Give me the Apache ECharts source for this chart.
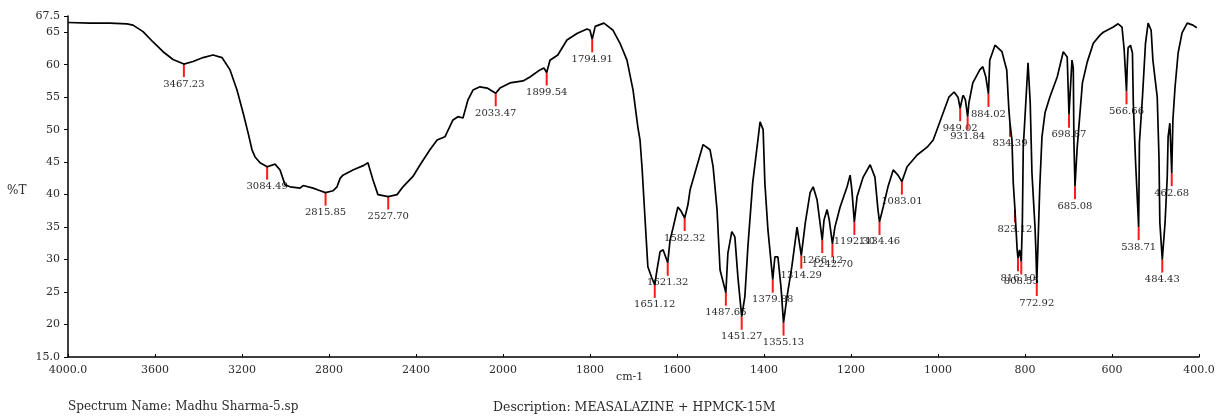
<!DOCTYPE html>
<html>
<head>
<meta charset="utf-8">
<script src="https://cdn.jsdelivr.net/npm/echarts@6/dist/echarts.min.js"></script>
<style>
  html, body { margin: 0; padding: 0; background: #fff; }
  #chart { width: 1224px; height: 418px; }
</style>
</head>
<body>
<div id="chart"></div>
<script>
// IR spectrum: wavenumber (cm-1) against transmittance (%T)
const spectrumWn = [
  4000, 3899, 3807, 3729, 3701, 3655, 3609, 3563, 3517, 3467.23,
  3425, 3379, 3333, 3292, 3255, 3223, 3195, 3172, 3154, 3140,
  3117, 3084.49, 3048, 3025, 3002, 2979, 2933, 2919, 2873, 2850,
  2815.85, 2781, 2763, 2749, 2736, 2690, 2640, 2621, 2598, 2575,
  2527.70, 2487, 2460, 2414, 2381, 2336, 2303, 2267, 2230, 2207,
  2184, 2161, 2138, 2106, 2073, 2033.47, 2014, 1984, 1954, 1938,
  1915, 1906, 1899.54, 1892, 1874, 1853, 1830, 1807, 1800, 1794.91,
  1788, 1768, 1747, 1731, 1715, 1701, 1690, 1685, 1680, 1673,
  1667, 1658, 1651.12, 1646, 1639, 1632, 1621.32, 1616, 1609, 1598,
  1591, 1582.32, 1575, 1570, 1559, 1540, 1524, 1517, 1508, 1501,
  1487.65, 1483, 1474, 1467, 1460, 1451.27, 1444, 1437, 1426, 1416,
  1409, 1402, 1398, 1391, 1379.88, 1375, 1368, 1361, 1355.13, 1347,
  1336, 1324, 1314.29, 1305, 1294, 1287, 1278, 1266.12, 1262, 1255,
  1250, 1242.70, 1237, 1225, 1209, 1202, 1198, 1192.30, 1186, 1172,
  1156, 1145, 1138, 1134.46, 1126, 1115, 1103, 1099, 1092, 1083.01,
  1071, 1048, 1025, 1011, 1000, 986, 975, 963, 954, 949.02,
  944, 942, 937, 931.84, 929, 920, 904, 897, 890, 884.02,
  881, 869, 865, 853, 842, 837, 834.39, 830, 827, 823.12,
  818, 816.10, 812.5, 808.55, 806, 804, 800, 793, 788, 784,
  777, 775, 772.92, 766, 761, 754, 743, 726, 712, 703,
  698.87, 692, 689, 687.5, 685.08, 680, 668, 657, 643, 627,
  620, 597, 586, 577, 572, 566.66, 565, 563, 557.5, 553,
  551, 546, 538.71, 537, 530, 523, 517, 510, 506, 496,
  492, 490, 484.43, 478, 473, 471, 467, 462.68, 460, 455,
  448, 439, 427, 414, 405
];
const spectrumT = [
  66.5, 66.4, 66.4, 66.3, 66.1, 65.1, 63.5, 62.0, 60.8, 60.1,
  60.5, 61.1, 61.5, 61.1, 59.2, 56.1, 52.6, 49.5, 46.9, 45.8,
  44.9, 44.3, 44.7, 43.8, 41.5, 41.2, 41.0, 41.4, 41.0, 40.7,
  40.3, 40.6, 41.2, 42.5, 43.0, 43.8, 44.5, 44.9, 42.3, 40.0,
  39.7, 40.0, 41.2, 42.8, 44.6, 46.9, 48.4, 48.9, 51.5, 52.0,
  51.8, 54.6, 56.1, 56.6, 56.4, 55.6, 56.4, 57.2, 57.5, 58.1,
  59.2, 59.5, 58.8, 60.7, 61.5, 63.8, 64.8, 65.5, 65.3, 63.9,
  65.9, 66.4, 65.3, 63.3, 60.7, 56.1, 50.4, 48.4, 43.8, 35.7,
  28.9, 27.2, 26.1, 28.4, 31.2, 31.5, 29.5, 33.0, 34.9, 38.1,
  37.5, 36.4, 38.4, 40.7, 43.3, 47.7, 46.9, 44.3, 37.7, 28.4,
  24.9, 31.0, 34.3, 33.5, 27.3, 21.2, 24.3, 32.0, 41.8, 47.3,
  51.2, 50.0, 41.8, 34.6, 26.9, 30.4, 30.4, 25.8, 20.3, 24.3,
  28.9, 35.0, 30.6, 35.7, 40.3, 41.2, 39.2, 33.0, 36.1, 37.7,
  36.1, 32.4, 35.0, 38.1, 41.2, 43.0, 40.7, 35.8, 39.7, 42.7,
  44.6, 42.7, 37.7, 35.8, 38.1, 41.2, 43.8, 44.0, 43.0, 42.0,
  44.3, 46.1, 47.3, 48.4, 50.4, 53.0, 55.0, 55.8, 55.0, 53.3,
  54.9, 55.3, 54.6, 52.0, 54.1, 57.2, 59.2, 59.7, 58.1, 55.5,
  60.7, 63.0, 63.3, 62.0, 59.2, 53.0, 50.9, 48.4, 41.8, 37.7,
  31.5, 30.2, 31.5, 29.7, 36.1, 47.3, 52.0, 60.3, 54.1, 43.3,
  35.0, 31.5, 26.4, 41.2, 48.9, 52.6, 55.0, 58.1, 62.0, 61.2,
  52.3, 60.7, 59.5, 48.0, 41.3, 47.3, 57.2, 60.4, 63.3, 64.6,
  65.0, 65.8, 66.3, 65.8, 62.3, 55.9, 59.7, 62.6, 63.0, 61.8,
  54.1, 45.3, 35.0, 48.0, 55.0, 63.3, 66.4, 65.3, 60.7, 55.0,
  45.8, 35.7, 30.0, 35.7, 42.7, 48.9, 51.0, 43.3, 51.5, 56.6,
  61.8, 64.9, 66.4, 66.1, 65.7
];

// Labelled absorption peaks
const peakWn = [
  3467.23, 3084.49, 2815.85, 2527.70, 2033.47, 1899.54, 1794.91, 1651.12, 1621.32, 1582.32,
  1487.65, 1451.27, 1379.88, 1355.13, 1314.29, 1266.12, 1242.70, 1192.30, 1134.46, 1083.01,
  949.02, 931.84, 884.02, 834.39, 823.12, 816.10, 808.55, 772.92, 698.87, 685.08,
  566.66, 538.71, 484.43, 462.68
];
const peakT = [
  60.1, 44.3, 40.3, 39.7, 55.6, 58.8, 63.9, 26.1, 29.5, 36.4,
  24.9, 21.2, 26.9, 20.3, 30.6, 33.0, 32.4, 35.8, 35.8, 42.0,
  53.3, 52.0, 55.5, 50.9, 37.7, 30.2, 29.7, 26.4, 52.3, 41.3,
  55.9, 35.0, 30.0, 43.3
];
const peakLabels = peakWn.map(v => v.toFixed(2));

// Axis ticks: the scale is compressed 4000-2000 (400 per division), 2000-400 (200 per division)
const xTickLabels = ['4000.0', '3600', '3200', '2800', '2400', '2000', '1800', '1600',
                     '1400', '1200', '1000', '800', '600', '400.0'];
const yTickValues = [15, 20, 25, 30, 35, 40, 45, 50, 55, 60, 65, 67.5];
const yTickLabels = ['15.0', '20', '25', '30', '35', '40', '45', '50', '55', '60', '65', '67.5'];

const axisPos = wn => wn >= 2000 ? (4000 - wn) / 400 : 5 + (2000 - wn) / 200;

const SERIF = '"DejaVu Serif", "Liberation Serif", serif';
const TXT = '#2a2a2a';

const chart = echarts.init(document.getElementById('chart'), null, { renderer: 'canvas' });

chart.setOption({
  animation: false,
  backgroundColor: '#ffffff',
  grid: { left: 68, right: 25, top: 16, bottom: 61, containLabel: false },
  xAxis: {
    type: 'value',
    min: 0,
    max: 13,
    interval: 1,
    axisLine: { show: true, lineStyle: { color: '#000', width: 1.5 } },
    axisTick: { show: true, inside: true, length: 3, lineStyle: { color: '#000' } },
    splitLine: { show: false },
    axisLabel: {
      margin: 8,
      color: TXT,
      fontFamily: SERIF,
      fontSize: 11,
      formatter: v => xTickLabels[Math.round(v)] ?? ''
    }
  },
  yAxis: {
    type: 'value',
    min: 15,
    max: 67.5,
    interval: 5,
    axisLine: { show: true, lineStyle: { color: '#000', width: 1.5 } },
    axisTick: { show: true, inside: false, length: 4, lineStyle: { color: '#000' } },
    splitLine: { show: false },
    axisLabel: {
      margin: 8,
      color: TXT,
      fontFamily: SERIF,
      fontSize: 11,
      formatter: v => {
        const i = yTickValues.indexOf(v);
        return i >= 0 ? yTickLabels[i] : '';
      }
    }
  },
  series: [
    {
      name: 'peaks',
      type: 'custom',
      z: 2,
      clip: false,
      data: peakWn.map((w, i) => [axisPos(w), peakT[i]]),
      renderItem: (params, api) => {
        const p = api.coord([api.value(0), api.value(1)]);
        return {
          type: 'group',
          children: [
            {
              type: 'line',
              shape: { x1: p[0], y1: p[1], x2: p[0], y2: p[1] + 13 },
              style: { stroke: '#ff1a1a', lineWidth: 2 }
            },
            {
              type: 'text',
              style: {
                text: peakLabels[params.dataIndex],
                x: p[0],
                y: p[1] + 15,
                align: 'center',
                verticalAlign: 'top',
                font: '10px ' + SERIF,
                fill: TXT
              }
            }
          ]
        };
      }
    },
    {
      name: 'spectrum',
      type: 'line',
      z: 3,
      showSymbol: false,
      symbol: 'none',
      smooth: false,
      lineStyle: { color: '#000', width: 1.7 },
      data: spectrumWn.map((w, i) => [axisPos(w), spectrumT[i]])
    }
  ],
  graphic: [
    { type: 'text', left: 7, top: 185, style: { text: '%T', font: '12px ' + SERIF, fill: TXT } },
    { type: 'text', left: 616, top: 372, style: { text: 'cm-1', font: '11px ' + SERIF, fill: TXT } },
    { type: 'text', left: 68, top: 401, style: { text: 'Spectrum Name: Madhu Sharma-5.sp', font: '12px ' + SERIF, fill: TXT } },
    { type: 'text', left: 493, top: 401, style: { text: 'Description: MEASALAZINE + HPMCK-15M', font: '12.5px ' + SERIF, fill: TXT } }
  ]
});
</script>
</body>
</html>
